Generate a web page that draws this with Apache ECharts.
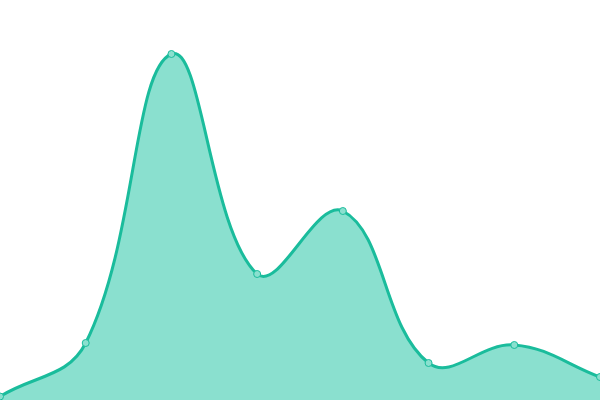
<!DOCTYPE html>
<html>
<head>
<meta charset="utf-8">
<script src="https://cdn.jsdelivr.net/npm/echarts@6/dist/echarts.min.js"></script>
<style>html,body{margin:0;padding:0;background:#fff}#c{width:600px;height:400px}</style>
</head>
<body>
<div id="c"></div>
<script>
const categories = ['1', '2', '3', '4', '5', '6', '7', '8'];
const values = [3.5, 57, 346, 126, 189, 37, 55, 23];

const TENSION = 0.4;
const LINE_COLOR = '#1abc9c';
const FILL_COLOR = '#8ae0cf';

function dist(a, b) { return Math.sqrt((a[0] - b[0]) ** 2 + (a[1] - b[1]) ** 2); }

function controlPoints(pts, rect) {
  const cps = [];
  for (let i = 0; i < pts.length; i++) {
    const cur = pts[i];
    const prev = i > 0 ? pts[i - 1] : cur;
    const next = i < pts.length - 1 ? pts[i + 1] : cur;
    const d01 = dist(cur, prev), d12 = dist(next, cur);
    let s01 = d01 / (d01 + d12), s12 = d12 / (d01 + d12);
    if (isNaN(s01)) s01 = 0;
    if (isNaN(s12)) s12 = 0;
    const fa = TENSION * s01, fb = TENSION * s12;
    const clampX = x => Math.min(Math.max(x, rect.x), rect.x + rect.width);
    const clampY = y => Math.min(Math.max(y, rect.y), rect.y + rect.height);
    cps.push({
      prev: [clampX(cur[0] - fa * (next[0] - prev[0])), clampY(cur[1] - fa * (next[1] - prev[1]))],
      next: [clampX(cur[0] + fb * (next[0] - prev[0])), clampY(cur[1] + fb * (next[1] - prev[1]))]
    });
  }
  return cps;
}

const chart = echarts.init(document.getElementById('c'));
chart.setOption({
  animation: false,
  grid: { left: 0, right: 0, top: 0, bottom: 0 },
  xAxis: { type: 'category', data: categories, boundaryGap: false, show: false },
  yAxis: { type: 'value', min: 0, max: 400, show: false },
  series: [{
    type: 'custom',
    data: values.map((v, i) => [i, v]),
    encode: { x: 0, y: 1 },
    renderItem: function (params, api) {
      if (params.dataIndex !== 0) return null;
      const rect = params.coordSys;
      const pts = values.map((v, i) => api.coord([i, v]));
      const cps = controlPoints(pts, rect);
      let d = 'M' + pts[0][0] + ' ' + pts[0][1];
      for (let i = 0; i < pts.length - 1; i++) {
        const c1 = cps[i].next, c2 = cps[i + 1].prev, p = pts[i + 1];
        d += ' C' + c1[0] + ' ' + c1[1] + ' ' + c2[0] + ' ' + c2[1] + ' ' + p[0] + ' ' + p[1];
      }
      const base = api.coord([0, 0])[1];
      const fillD = d + ' L' + pts[pts.length - 1][0] + ' ' + base + ' L' + pts[0][0] + ' ' + base + ' Z';
      return {
        type: 'group',
        children: [
          { type: 'path', shape: { pathData: fillD }, style: { fill: FILL_COLOR, stroke: 'none' } },
          { type: 'path', shape: { pathData: d }, style: { fill: 'none', stroke: LINE_COLOR, lineWidth: 3 } }
        ]
      };
    }
  }, {
    type: 'scatter',
    data: values.map((v, i) => [i, v]),
    symbol: 'circle',
    symbolSize: 7,
    z: 5,
    itemStyle: { color: FILL_COLOR, borderColor: LINE_COLOR, borderWidth: 1, opacity: 1 }
  }]
});
</script>
</body>
</html>
